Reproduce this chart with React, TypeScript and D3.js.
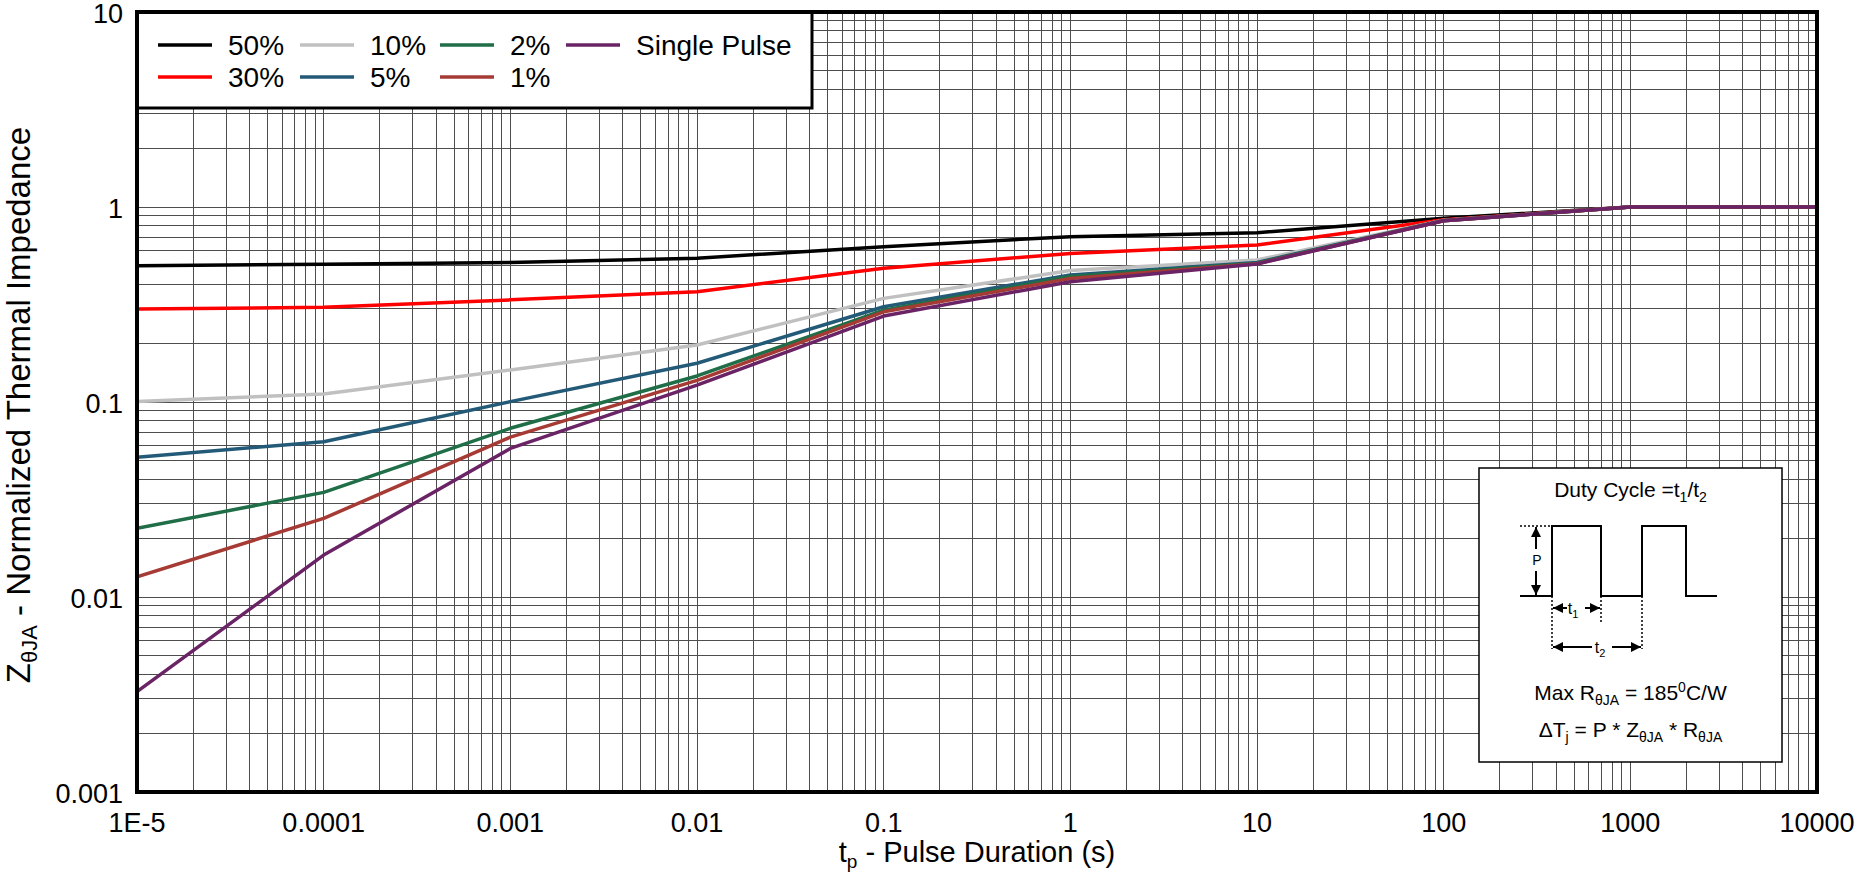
import React from 'react';
import * as d3 from 'd3';

// ---- data ----
const tp = [1e-5, 1e-4, 1e-3, 1e-2, 0.1, 1, 10, 100, 1000, 10000];
const z50 = [0.5, 0.508, 0.52, 0.546, 0.626, 0.704, 0.738, 0.875, 1.0, 1.0];
const z30 = [0.3, 0.306, 0.334, 0.368, 0.485, 0.578, 0.638, 0.86, 1.0, 1.0];
const z10 = [0.1007, 0.11, 0.146, 0.196, 0.34, 0.472, 0.535, 0.855, 1.0, 1.0];
const z5 = [0.052, 0.0626, 0.1004, 0.158, 0.308, 0.448, 0.52, 0.852, 1.0, 1.0];
const z2 = [0.0225, 0.0344, 0.0733, 0.136, 0.296, 0.44, 0.515, 0.851, 1.0, 1.0];
const z1 = [0.0127, 0.0253, 0.066, 0.129, 0.29, 0.43, 0.512, 0.85, 1.0, 1.0];
const zSingle = [0.00327, 0.0164, 0.0578, 0.122, 0.276, 0.414, 0.51, 0.85, 1.0, 1.0];

const seriesNames = ['50%', '30%', '10%', '5%', '2%', '1%', 'Single Pulse'];
const seriesValues = [z50, z30, z10, z5, z2, z1, zSingle];
const seriesColors = ['#000000', '#ff0000', '#c0c0c0', '#235a78', '#1f6e47', '#a63b35', '#6a2466'];

const xTickValues = [1e-5, 1e-4, 1e-3, 1e-2, 0.1, 1, 10, 100, 1000, 10000];
const xTickLabels = ['1E-5', '0.0001', '0.001', '0.01', '0.1', '1', '10', '100', '1000', '10000'];
const yTickValues = [0.001, 0.01, 0.1, 1, 10];
const yTickLabels = ['0.001', '0.01', '0.1', '1', '10'];

const W = 1858;
const H = 880;
const L = 137, R = 1817, T = 12, B = 792;
const FONT = "'Liberation Sans', Arial, Helvetica, sans-serif";

export default function App() {
  const x = d3.scaleLog().domain([1e-5, 1e4]).range([L, R]);
  const y = d3.scaleLog().domain([0.001, 10]).range([B, T]);
  const line = d3.line<number>().x((_, i) => x(tp[i])).y((d) => y(d));

  const xGrid: number[] = [];
  for (let e = -5; e < 4; e++) for (let k = 1; k <= 9; k++) xGrid.push(k * Math.pow(10, e));
  xGrid.push(1e4);
  const yGrid: number[] = [];
  for (let e = -3; e < 1; e++) for (let k = 1; k <= 9; k++) yGrid.push(k * Math.pow(10, e));
  yGrid.push(10);

  // legend layout (columns of 2 rows)
  const legCols = [158, 300, 440, 566];
  const legRows = [45, 77];

  // inset box
  const bx = 1479, by = 468, bw = 303, bh = 294;
  const base = 596, top = 526;
  const wx = [1520, 1552, 1601, 1642, 1686, 1717];

  return (
    <svg width={W} height={H} style={{ position: 'absolute', left: 0, top: 0, background: '#fff' }} fontFamily={FONT}>
      <defs>
        <clipPath id="plotclip">
          <rect x={L} y={T} width={R - L} height={B - T} />
        </clipPath>
        <marker id="arr" viewBox="0 0 10 10" refX="10" refY="5" markerWidth="10" markerHeight="10" markerUnits="userSpaceOnUse" orient="auto-start-reverse">
          <path d="M0,0 L10,5 L0,10 z" fill="#000" />
        </marker>
      </defs>
      <rect x={0} y={0} width={W} height={H} fill="#fff" />
      {/* grid */}
      <g stroke="#4d4d4d" strokeWidth={1} shapeRendering="crispEdges">
        {xGrid.map((v, i) => (
          <line key={'gx' + i} x1={x(v)} x2={x(v)} y1={T} y2={B} />
        ))}
        {yGrid.map((v, i) => (
          <line key={'gy' + i} x1={L} x2={R} y1={y(v)} y2={y(v)} />
        ))}
      </g>
      {/* curves */}
      <g clipPath="url(#plotclip)" fill="none" strokeWidth={3.5} strokeLinejoin="round">
        {seriesValues.map((vals, i) => (
          <path key={'s' + i} d={line(vals) || ''} stroke={seriesColors[i]} />
        ))}
      </g>
      {/* legend */}
      <rect x={L} y={T} width={812 - L} height={108 - T} fill="#fff" stroke="#000" strokeWidth={3} />
      {seriesNames.map((n, i) => {
        const cx = legCols[Math.floor(i / 2)];
        const cy = legRows[i % 2];
        return (
          <g key={'lg' + i}>
            <line x1={cx} x2={cx + 54} y1={cy} y2={cy} stroke={seriesColors[i]} strokeWidth={3.5} />
            <text x={cx + 70} y={cy + 10} fontSize={28} fill="#000">{n}</text>
          </g>
        );
      })}
      {/* inset */}
      <rect x={bx} y={by} width={bw} height={bh} fill="#fff" stroke="#000" strokeWidth={1.5} />
      <text x={bx + bw / 2} y={497} fontSize={21} textAnchor="middle">
        Duty Cycle =t<tspan fontSize={14} dy={5}>1</tspan>
        <tspan dy={-5}>/t</tspan>
        <tspan fontSize={14} dy={5}>2</tspan>
      </text>
      <path
        d={`M${wx[0]},${base} H${wx[1]} V${top} H${wx[2]} V${base} H${wx[3]} V${top} H${wx[4]} V${base} H${wx[5]}`}
        fill="none" stroke="#000" strokeWidth={2}
      />
      <g stroke="#000" strokeWidth={1.5} strokeDasharray="2,2" fill="none">
        <line x1={wx[0]} x2={wx[1]} y1={top} y2={top} />
        <line x1={wx[1]} x2={wx[1]} y1={base} y2={649} />
        <line x1={wx[2]} x2={wx[2]} y1={base} y2={624} />
        <line x1={wx[3]} x2={wx[3]} y1={base} y2={649} />
      </g>
      <line x1={1536} x2={1536} y1={549} y2={top + 1} stroke="#000" strokeWidth={2} markerEnd="url(#arr)" />
      <line x1={1536} x2={1536} y1={571} y2={base - 1} stroke="#000" strokeWidth={2} markerEnd="url(#arr)" />
      <text x={1537} y={565} fontSize={14} textAnchor="middle">P</text>
      <line x1={1567} x2={wx[1] + 1} y1={608} y2={608} stroke="#000" strokeWidth={2} markerEnd="url(#arr)" />
      <line x1={1585} x2={wx[2] - 1} y1={608} y2={608} stroke="#000" strokeWidth={2} markerEnd="url(#arr)" />
      <text x={1573} y={614} fontSize={16} textAnchor="middle">t<tspan fontSize={11} dy={4}>1</tspan></text>
      <line x1={1592} x2={wx[1] + 1} y1={647} y2={647} stroke="#000" strokeWidth={2} markerEnd="url(#arr)" />
      <line x1={1612} x2={wx[3] - 1} y1={647} y2={647} stroke="#000" strokeWidth={2} markerEnd="url(#arr)" />
      <text x={1600} y={653} fontSize={16} textAnchor="middle">t<tspan fontSize={11} dy={4}>2</tspan></text>
      <text x={bx + bw / 2} y={700} fontSize={21} textAnchor="middle">
        Max R<tspan fontSize={14} dy={5}>θJA</tspan>
        <tspan dy={-5}> = 185</tspan>
        <tspan fontSize={14} dy={-8}>0</tspan>
        <tspan dy={8}>C/W</tspan>
      </text>
      <text x={bx + bw / 2} y={737} fontSize={21} textAnchor="middle">
        ΔT<tspan fontSize={14} dy={5}>j</tspan>
        <tspan dy={-5}> = P * Z</tspan>
        <tspan fontSize={14} dy={5}>θJA</tspan>
        <tspan dy={-5}> * R</tspan>
        <tspan fontSize={14} dy={5}>θJA</tspan>
      </text>
      {/* frame */}
      <rect x={L} y={T} width={R - L} height={B - T} fill="none" stroke="#000" strokeWidth={4} />
      {/* tick labels */}
      {yTickValues.map((v, i) => (
        <text key={'yt' + i} x={123} y={y(v) + 11} fontSize={27} textAnchor="end">{yTickLabels[i]}</text>
      ))}
      {xTickValues.map((v, i) => (
        <text key={'xt' + i} x={x(v)} y={832} fontSize={27} textAnchor="middle">{xTickLabels[i]}</text>
      ))}
      {/* axis titles */}
      <text x={(L + R) / 2} y={862} fontSize={29} textAnchor="middle">
        t<tspan fontSize={19} dy={6}>p</tspan>
        <tspan dy={-6}> - Pulse Duration (s)</tspan>
      </text>
      <text transform={`translate(30, 405) rotate(-90)`} fontSize={33} textAnchor="middle">
        Z<tspan fontSize={22} dy={7}>θJA</tspan>
        <tspan dy={-7}> - Normalized Thermal Impedance</tspan>
      </text>
    </svg>
  );
}
